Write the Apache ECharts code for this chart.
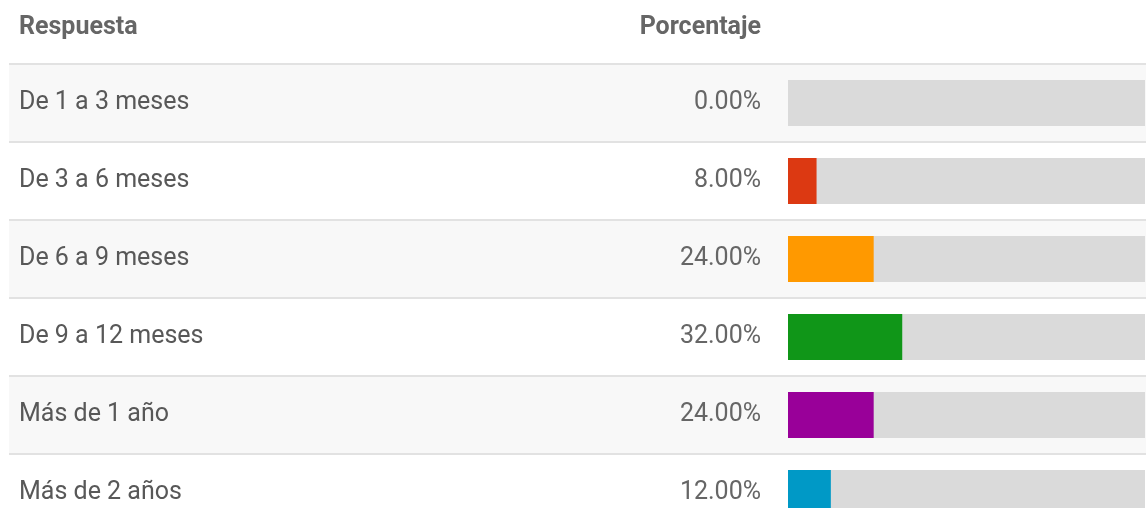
<!DOCTYPE html>
<html>
<head>
<meta charset="utf-8">
<script src="https://cdn.jsdelivr.net/npm/echarts@6/dist/echarts.min.js"></script>
<style>
html,body{margin:0;padding:0;background:#fff;}
#c{width:1146px;height:508px;}
</style>
</head>
<body>
<div id="c"></div>
<script>
const headers = ['Respuesta', 'Porcentaje'];
const categories = ['De 1 a 3 meses', 'De 3 a 6 meses', 'De 6 a 9 meses', 'De 9 a 12 meses', 'Más de 1 año', 'Más de 2 años'];
const values = [0, 8, 24, 32, 24, 12];
const colors = ['#dc3912', '#dc3912', '#ff9900', '#109618', '#990099', '#0099c6'];

const FONT = 'Roboto';
const chart = echarts.init(document.getElementById('c'));
chart.setOption({
  animation: false,
  title: [
    { text: headers[0], left: 19, top: 15, padding: 0, textStyle: { fontFamily: FONT, fontSize: 25, fontWeight: 'bold', color: '#666' } },
    { text: headers[1], right: 385, top: 15, padding: 0, textStyle: { fontFamily: FONT, fontSize: 25, fontWeight: 'bold', color: '#666' } }
  ],
  grid: [
    { left: 9, right: 0, top: 64, height: 468, outerBoundsMode: 'none', containLabel: false },
    { left: 788, right: 1, top: 64, height: 468, outerBoundsMode: 'none', containLabel: false }
  ],
  xAxis: [
    { gridIndex: 0, type: 'value', min: 0, max: 100, show: false },
    { gridIndex: 1, type: 'value', min: 0, max: 100, show: false }
  ],
  yAxis: [
    {
      gridIndex: 0, type: 'category', data: categories, inverse: true,
      axisLine: { show: false }, axisTick: { show: false },
      axisLabel: { inside: true, margin: 10, fontFamily: FONT, fontSize: 25, color: '#585858', padding: [6, 0, 0, 0] },
      splitLine: { show: true, lineStyle: { color: '#e2e2e2', width: 2 } },
      splitArea: { show: true, areaStyle: { color: ['#f8f8f8', '#ffffff'] } }
    },
    {
      gridIndex: 1, type: 'category', data: categories, inverse: true, show: false
    }
  ],
  series: [
    {
      type: 'bar', xAxisIndex: 1, yAxisIndex: 1, barWidth: 46,
      data: values.map((v, i) => ({ value: v, itemStyle: { color: colors[i] } })),
      showBackground: true,
      backgroundStyle: { color: '#dadada' },
      label: {
        show: true, position: 'left', distance: 27, padding: [6, 0, 0, 0],
        fontFamily: FONT, fontSize: 25, color: '#666',
        formatter: p => values[p.dataIndex].toFixed(2) + '%'
      }
    }
  ]
});
</script>
</body>
</html>
